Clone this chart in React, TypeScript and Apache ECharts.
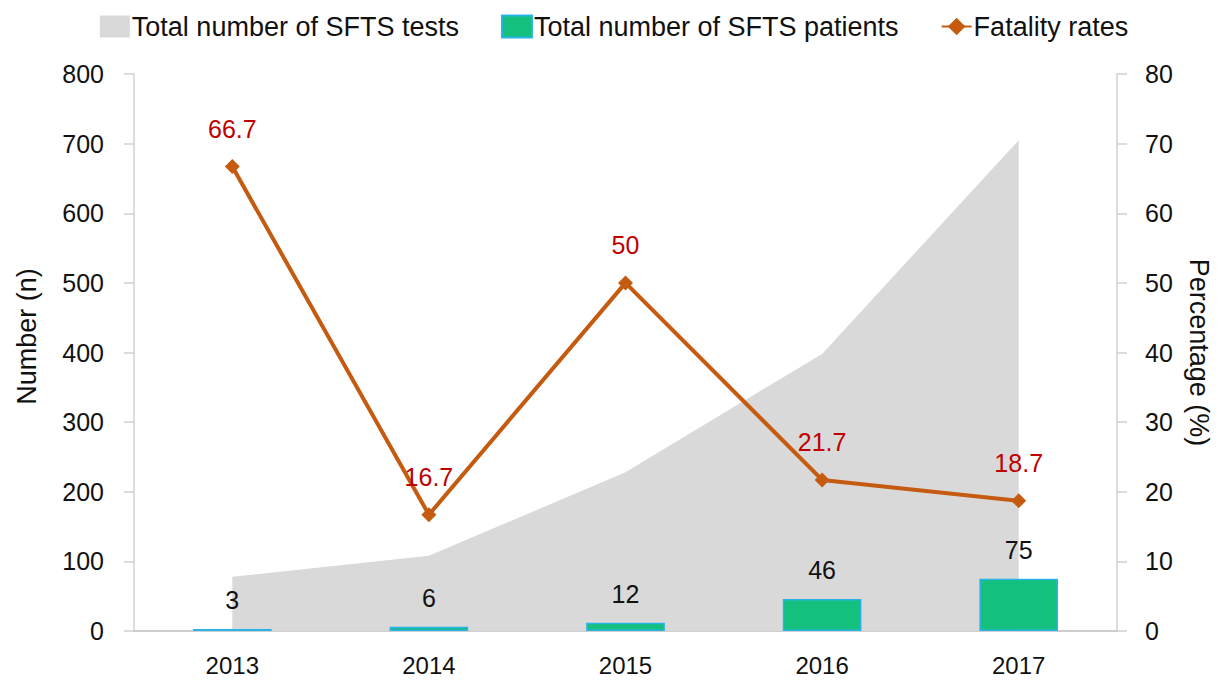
import React, { useEffect, useRef } from "react";
import * as echarts from "echarts";

const years = ["2013", "2014", "2015", "2016", "2017"];
const testTotals = [78, 108, 228, 398, 705];
const patientTotals = [3, 6, 12, 46, 75];
const fatalityRates = [66.7, 16.7, 50, 21.7, 18.7];

const FONT = '"Liberation Sans", Arial, sans-serif';

export default function App() {
  const ref = useRef<HTMLDivElement>(null);
  useEffect(() => {
    if (!ref.current) return;
    const chart = echarts.init(ref.current, undefined, { renderer: "svg" });
    chart.setOption({
      animation: false,
      backgroundColor: "#ffffff",
      textStyle: { fontFamily: FONT },
      legend: {
        top: 8,
        left: "center",
        itemWidth: 30,
        itemHeight: 22,
        itemGap: 42,
        textStyle: { fontSize: 27, color: "#111", fontFamily: FONT, padding: [0, 0, 0, -3] },
        data: [
          { name: "Total number of SFTS tests", icon: "rect" },
          { name: "Total number of SFTS patients", icon: "rect" },
          { name: "Fatality rates" },
        ],
      },
      grid: { left: 134, right: 111, top: 74, bottom: 51 },
      xAxis: {
        type: "category",
        data: years,
        boundaryGap: true,
        axisLine: { lineStyle: { color: "#BFBFBF", width: 1.5 } },
        axisTick: { show: false },
        axisLabel: { fontSize: 24, color: "#111", margin: 22, fontFamily: FONT },
      },
      yAxis: [
        {
          type: "value",
          min: 0,
          max: 800,
          interval: 100,
          name: "Number (n)",
          nameLocation: "middle",
          nameRotate: 90,
          nameGap: 94,
          nameTextStyle: { fontSize: 27, color: "#111", fontFamily: FONT, padding: [0, 0, 0, 32] },
          axisLine: { show: true, lineStyle: { color: "#D0D0D0", width: 1.5 } },
          axisTick: { show: true, length: 10, lineStyle: { color: "#D0D0D0", width: 1.5 } },
          splitLine: { show: false },
          axisLabel: { fontSize: 25, color: "#111", margin: 30, fontFamily: FONT },
        },
        {
          type: "value",
          min: 0,
          max: 80,
          interval: 10,
          position: "right",
          name: "Percentage (%)",
          nameLocation: "middle",
          nameRotate: -90,
          nameGap: 68,
          nameTextStyle: { fontSize: 27, color: "#111", fontFamily: FONT },
          axisLine: { show: true, lineStyle: { color: "#D0D0D0", width: 1.5 } },
          axisTick: { show: true, length: 10, lineStyle: { color: "#D0D0D0", width: 1.5 } },
          splitLine: { show: false },
          axisLabel: { fontSize: 25, color: "#111", margin: 28, fontFamily: FONT },
        },
      ],
      series: [
        {
          name: "Total number of SFTS tests",
          type: "line",
          data: testTotals,
          yAxisIndex: 0,
          symbol: "none",
          lineStyle: { width: 0, color: "#D9D9D9" },
          itemStyle: { color: "#D9D9D9" },
          areaStyle: { color: "#D9D9D9", opacity: 1 },
          z: 1,
        },
        {
          name: "Total number of SFTS patients",
          type: "bar",
          data: patientTotals,
          yAxisIndex: 0,
          barWidth: "40%",
          itemStyle: { color: "#13C07E", borderColor: "#2AB4E6", borderWidth: 1.5 },
          label: {
            show: true,
            position: "top",
            distance: 16,
            fontSize: 25,
            color: "#111",
            fontFamily: FONT,
          },
          z: 2,
        },
        {
          name: "Fatality rates",
          type: "line",
          data: fatalityRates,
          yAxisIndex: 1,
          symbol: "diamond",
          symbolSize: 15,
          lineStyle: { color: "#C55A11", width: 4 },
          itemStyle: { color: "#C55A11" },
          label: {
            show: true,
            position: "top",
            distance: 18,
            fontSize: 25,
            color: "#C00000",
            fontFamily: FONT,
          },
          z: 3,
        },
      ],
    });
    return () => chart.dispose();
  }, []);
  return (
    <div
      ref={ref}
      style={{ position: "absolute", left: 0, top: 0, width: 1228, height: 682 }}
    />
  );
}
